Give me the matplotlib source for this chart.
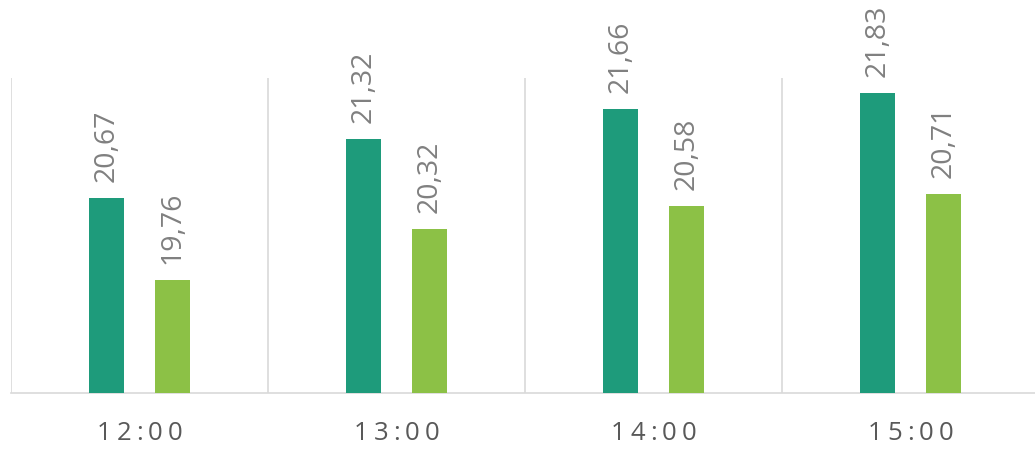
import matplotlib.pyplot as plt
import matplotlib.transforms as mtransforms
from matplotlib.font_manager import FontProperties
import numpy as np

plt.rcParams['font.family'] = ['Open Sans', 'DejaVu Sans']

hours = ['12:00', '13:00', '14:00', '15:00']
series_a = [20.67, 21.32, 21.66, 21.83]
series_b = [19.76, 20.32, 20.58, 20.71]

dark = '#1E9B7B'
light = '#8CC146'

fig = plt.figure(figsize=(10.35, 4.5), dpi=100)
ax = fig.add_axes([11 / 1035, 57 / 450, 1028 / 1035, 315 / 450])

x = np.arange(len(hours))
w = 35 / 257
off = 33 / 257
ax.bar(x - off, series_a, width=w, color=dark, zorder=3)
ax.bar(x + off, series_b, width=w, color=light, zorder=3)

for xi, a, b in zip(x, series_a, series_b):
    for pos, v in ((xi - off, a), (xi + off, b)):
        ax.annotate(f'{v:.2f}'.replace('.', ','), (pos, v), xytext=(0, 16),
                    textcoords='offset pixels', rotation=90, ha='center',
                    va='bottom', fontsize=20.5, color='#808080')

ax.set_xlim(-0.5, 3.5)
ax.set_ylim(18.5, 22)
for b in np.arange(-0.5, 4, 1):
    ax.axvline(b, color='#D9D9D9', lw=1.2, zorder=1)

ax.set_yticks([])
ax.set_xticks([])
for s in ['top', 'right', 'left']:
    ax.spines[s].set_visible(False)
ax.spines['bottom'].set_color('#D9D9D9')
ax.spines['bottom'].set_linewidth(1.2)

# category labels with letter spacing, drawn char by char
renderer = fig.canvas.get_renderer()
fp = FontProperties(family='Open Sans', size=18.5)
spacing = 5
base = mtransforms.blended_transform_factory(ax.transData, fig.transFigure)
for xi, lab in zip(x, hours):
    widths = [renderer.get_text_width_height_descent(c, fp, ismath=False)[0] for c in lab]
    total = sum(widths) + spacing * (len(lab) - 1)
    cur = -total / 2
    for c, cw in zip(lab, widths):
        tr = base + mtransforms.ScaledTranslation(cur / 100, 0, fig.dpi_scale_trans)
        fig.text(xi, 1 - 434 / 450, c, transform=tr, fontproperties=fp,
                 color='#595959', ha='left', va='center')
        cur += cw + spacing

fig.savefig('out.png', dpi=100)
